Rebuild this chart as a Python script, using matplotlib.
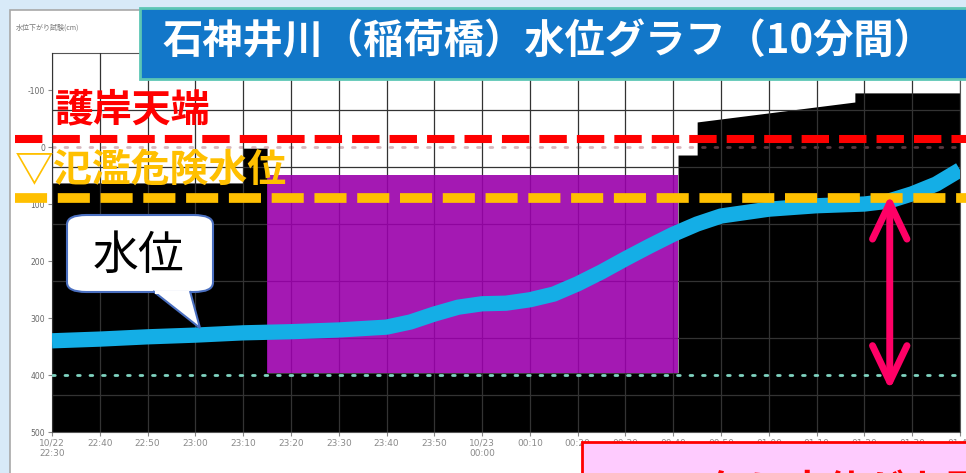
import matplotlib
matplotlib.use('Agg')
import matplotlib.pyplot as plt
from matplotlib.patches import Rectangle, FancyBboxPatch, Polygon

plt.rcParams['font.family'] = ['Noto Sans CJK JP', 'DejaVu Sans']

W, H = 966, 473

# 22:30 からの経過時間 (分) と水位 (cm, 下向きに大きくなる目盛)
t_level = [0, 10, 20, 30, 40, 50, 60, 70, 75, 80, 85, 90, 95, 100, 105, 110, 115,
           120, 125, 130, 135, 140, 150, 160, 170, 175, 180, 185, 190]
level = [340, 337, 333, 330, 326, 324, 321, 316, 307, 293, 281, 275, 274, 268, 258,
         240, 219, 196, 174, 153, 135, 121, 109, 103, 100, 95, 82, 65, 40]

# 元グラフの黒い塗りつぶし (上端)
black_t = [0, 40, 40, 45, 45, 131, 131, 135, 135, 168, 168, 190]
black_top = [63, 63, 2, 2, 396, 396, 14, 14, -44, -79, -95, -95]

# 紫の領域
purple_t = [45, 131]
purple_top = 49
purple_bottom = 396

tick_min = list(range(0, 200, 10))
tick_lab = ['10/22\n22:30', '22:40', '22:50', '23:00', '23:10', '23:20', '23:30',
            '23:40', '23:50', '10/23\n00:00', '00:10', '00:20', '00:30', '00:40',
            '00:50', '01:00', '01:10', '01:20', '01:30', '01:40']
y_ticks = [-100, 0, 100, 200, 300, 400, 500]
grid_y = [-65, 35, 135, 235, 335, 435]

bank_top = -14      # 護岸天端
danger_level = 89   # 氾濫危険水位
base_level = 400
arrow_t = 175.3
arrow_low, arrow_high = 426, 84


def fx(x):
    return x / W


def fy(y):
    return 1 - y / H


fig = plt.figure(figsize=(W / 100, H / 100), dpi=100)
fig.patch.set_facecolor('#d8eaf8')

# ウィンドウ (軸より後ろ)
fig.add_artist(Rectangle((fx(10), -0.1), 1, fy(10) + 0.1, transform=fig.transFigure,
                         fc='white', ec='#a8a8a8', lw=1.2, zorder=-5))
fig.text(fx(16), fy(28), '水位下がり試験(cm)', fontsize=5, color='#777777', va='center')

ax = fig.add_axes([fx(52), fy(432), fx(960) - fx(52), fy(53) - fy(432)])
ax.set_xlim(0, 190)
ax.set_ylim(500, -165)
ax.set_facecolor('white')

ax.fill_between(black_t, black_top, 500, color='black', lw=0, zorder=2)
ax.axhline(0, color='#b0707e', alpha=0.5, lw=2, ls=(0, (1, 3.5)),
           dash_capstyle='round', zorder=2.5)

for t in tick_min:
    ax.axvline(t, color='#333333', lw=0.9, zorder=3)
for g in grid_y:
    ax.axhline(g, color='#333333', lw=0.9, zorder=3)

ax.fill_between(purple_t, purple_top, purple_bottom, color='#9a00ab', alpha=0.9,
                lw=0, zorder=4)
ax.axhline(base_level, color='#7fd3c0', lw=2, ls=(0, (1, 3.5)), dash_capstyle='round',
           zorder=5)

ax.plot(t_level, level, color='#14aee6', lw=11, solid_capstyle='butt',
        solid_joinstyle='round', zorder=6)

ax.set_xticks(tick_min)
ax.set_xticklabels(tick_lab, fontsize=6.5, color='#8a8a8a', family='DejaVu Sans')
ax.set_yticks(y_ticks)
ax.set_yticklabels([str(v) for v in y_ticks], fontsize=5.5, color='#666666',
                   family='DejaVu Sans')
ax.tick_params(axis='both', length=3, color='#888888', pad=2)
for s in ax.spines.values():
    s.set_color('#555555')

# 護岸天端・氾濫危険水位
ax.axhline(bank_top, xmin=-0.041, xmax=1.01, color='#ff0000', lw=5.8,
           ls=(0, (3.4, 1.25)), clip_on=False, zorder=8)
ax.axhline(danger_level, xmin=-0.041, xmax=1.01, color='#ffc000', lw=7,
           ls=(0, (3.3, 1.1)), clip_on=False, zorder=8)
fig.text(fx(55), fy(110), '護岸天端', fontsize=28, fontweight='bold', color='#ff0000',
         va='center', ha='left', zorder=9)
fig.text(fx(15), fy(170), '▽氾濫危険水位', fontsize=28, fontweight='bold',
         color='#ffc000', va='center', ha='left', zorder=9)

# 上昇幅の矢印
ax.annotate('', xy=(arrow_t, arrow_high), xytext=(arrow_t, arrow_low),
            arrowprops=dict(arrowstyle='<->,head_length=1.3,head_width=0.62',
                            color='#ff0066', lw=5, mutation_scale=20,
                            shrinkA=0, shrinkB=0, capstyle='round', joinstyle='round'),
            zorder=9)

# 吹き出し
fig.add_artist(FancyBboxPatch((fx(67), fy(292)), fx(213) - fx(67), fy(215) - fy(292),
                              boxstyle='round,pad=0,rounding_size=0.02',
                              transform=fig.transFigure, fc='white', ec='#4a6fc0',
                              lw=1.5, zorder=10))
fig.add_artist(Polygon([(fx(153), fy(291)), (fx(200), fy(328)), (fx(190), fy(291))],
                       closed=False, transform=fig.transFigure, fc='white',
                       ec='#4a6fc0', lw=1.5, zorder=10.5))
fig.add_artist(Rectangle((fx(154.5), fy(293.5)), fx(34), 2.5 / H,
                         transform=fig.transFigure, fc='white', ec='none', zorder=10.6))
fig.text(fx(139), fy(256), '水位', fontsize=33, color='black', ha='center',
         va='center', zorder=11)

# タイトル
fig.add_artist(Rectangle((fx(140), fy(79)), 1, fy(8) - fy(79), transform=fig.transFigure,
                         fc='#1277c9', ec='#5cc6b4', lw=2, zorder=12))
fig.text(fx(548), fy(42), '石神井川（稲荷橋）水位グラフ（10分間）', fontsize=29,
         fontweight='bold', color='white', ha='center', va='center', zorder=13)

# 右下の注記
fig.add_artist(Rectangle((fx(582), fy(480)), 1, fy(442) - fy(480), transform=fig.transFigure,
                         fc='#fecbfe', ec='#ff0000', lw=2, zorder=12))
fig.text(fx(672), fy(492), '一気に水位が上昇', fontsize=28, fontweight='bold',
         color='#ff0000', ha='left', va='center', zorder=13)

fig.savefig('out.png', dpi=100, facecolor=fig.get_facecolor())
